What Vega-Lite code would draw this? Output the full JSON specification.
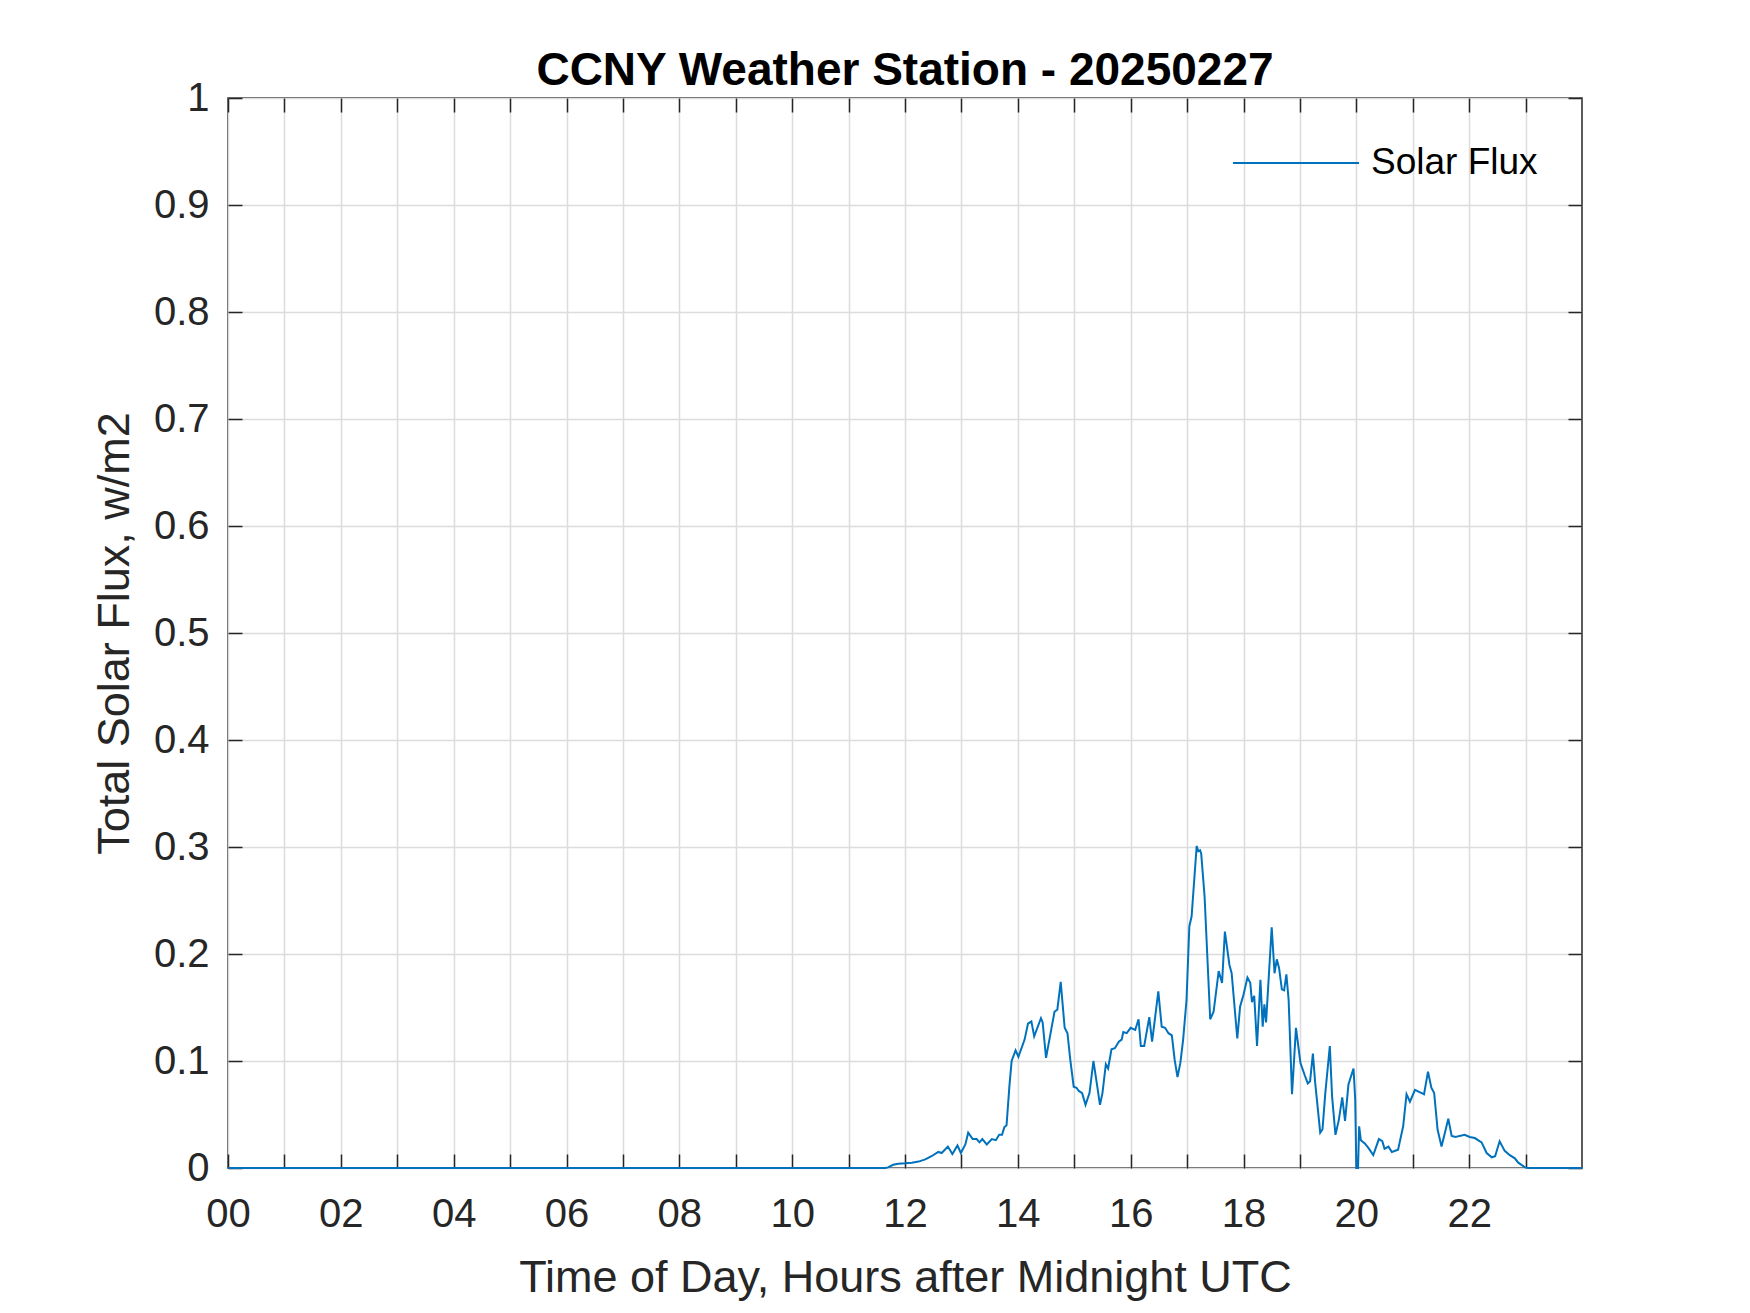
{
  "$schema": "https://vega.github.io/schema/vega-lite/v6.json",
  "width": 1354,
  "height": 1070,
  "autosize": {"type": "none"},
  "padding": {"left": 228, "top": 98, "right": 168, "bottom": 145},
  "background": "white",
  "title": {"text": "CCNY Weather Station - 20250227", "fontSize": 46, "font": "Liberation Sans", "fontWeight": "bold", "color": "#000000", "offset": -17, "anchor": "middle"},
  "data": {"values": [
    {"h": 0, "v": 0}, {"h": 11.6, "v": 0}, {"h": 11.65, "v": 0}, {"h": 11.7, "v": 0.0006}, {"h": 11.79, "v": 0.003}, {"h": 11.88, "v": 0.004},
    {"h": 12.0, "v": 0.0044}, {"h": 12.12, "v": 0.005}, {"h": 12.24, "v": 0.006}, {"h": 12.36, "v": 0.008}, {"h": 12.47, "v": 0.011},
    {"h": 12.59, "v": 0.015}, {"h": 12.65, "v": 0.014}, {"h": 12.76, "v": 0.020}, {"h": 12.84, "v": 0.013}, {"h": 12.93, "v": 0.021},
    {"h": 12.99, "v": 0.014}, {"h": 13.07, "v": 0.022}, {"h": 13.12, "v": 0.033}, {"h": 13.20, "v": 0.027}, {"h": 13.27, "v": 0.027},
    {"h": 13.32, "v": 0.024}, {"h": 13.37, "v": 0.027}, {"h": 13.45, "v": 0.022}, {"h": 13.54, "v": 0.027}, {"h": 13.61, "v": 0.026},
    {"h": 13.67, "v": 0.031}, {"h": 13.72, "v": 0.031}, {"h": 13.76, "v": 0.038}, {"h": 13.80, "v": 0.040}, {"h": 13.85, "v": 0.076},
    {"h": 13.89, "v": 0.100}, {"h": 13.96, "v": 0.110}, {"h": 14.01, "v": 0.104}, {"h": 14.12, "v": 0.120}, {"h": 14.18, "v": 0.135},
    {"h": 14.24, "v": 0.137}, {"h": 14.29, "v": 0.123}, {"h": 14.41, "v": 0.140}, {"h": 14.44, "v": 0.136}, {"h": 14.50, "v": 0.103},
    {"h": 14.57, "v": 0.123}, {"h": 14.65, "v": 0.146}, {"h": 14.70, "v": 0.148}, {"h": 14.76, "v": 0.174}, {"h": 14.83, "v": 0.131},
    {"h": 14.88, "v": 0.126}, {"h": 14.93, "v": 0.101}, {"h": 14.99, "v": 0.076}, {"h": 15.04, "v": 0.075}, {"h": 15.08, "v": 0.072},
    {"h": 15.14, "v": 0.070}, {"h": 15.20, "v": 0.059}, {"h": 15.27, "v": 0.070}, {"h": 15.34, "v": 0.100}, {"h": 15.40, "v": 0.079},
    {"h": 15.456, "v": 0.059}, {"h": 15.50, "v": 0.070}, {"h": 15.56, "v": 0.097}, {"h": 15.60, "v": 0.093}, {"h": 15.66, "v": 0.111},
    {"h": 15.72, "v": 0.112}, {"h": 15.79, "v": 0.118}, {"h": 15.84, "v": 0.120}, {"h": 15.87, "v": 0.127}, {"h": 15.93, "v": 0.126},
    {"h": 16.0, "v": 0.131}, {"h": 16.08, "v": 0.129}, {"h": 16.14, "v": 0.139}, {"h": 16.18, "v": 0.114}, {"h": 16.24, "v": 0.114},
    {"h": 16.33, "v": 0.141}, {"h": 16.38, "v": 0.118}, {"h": 16.49, "v": 0.165}, {"h": 16.55, "v": 0.132}, {"h": 16.61, "v": 0.131},
    {"h": 16.67, "v": 0.126}, {"h": 16.73, "v": 0.124}, {"h": 16.78, "v": 0.101}, {"h": 16.83, "v": 0.085}, {"h": 16.88, "v": 0.098},
    {"h": 16.93, "v": 0.120}, {"h": 16.99, "v": 0.157}, {"h": 17.04, "v": 0.226}, {"h": 17.08, "v": 0.235}, {"h": 17.17, "v": 0.301},
    {"h": 17.20, "v": 0.296}, {"h": 17.23, "v": 0.297}, {"h": 17.25, "v": 0.294}, {"h": 17.31, "v": 0.254}, {"h": 17.41, "v": 0.139},
    {"h": 17.47, "v": 0.146}, {"h": 17.56, "v": 0.184}, {"h": 17.62, "v": 0.173}, {"h": 17.67, "v": 0.221}, {"h": 17.75, "v": 0.190},
    {"h": 17.79, "v": 0.182}, {"h": 17.89, "v": 0.121}, {"h": 17.94, "v": 0.151}, {"h": 18.0, "v": 0.162}, {"h": 18.07, "v": 0.178},
    {"h": 18.12, "v": 0.173}, {"h": 18.15, "v": 0.155}, {"h": 18.19, "v": 0.161}, {"h": 18.24, "v": 0.114}, {"h": 18.30, "v": 0.176},
    {"h": 18.34, "v": 0.132}, {"h": 18.37, "v": 0.153}, {"h": 18.40, "v": 0.136}, {"h": 18.50, "v": 0.225}, {"h": 18.55, "v": 0.182},
    {"h": 18.59, "v": 0.195}, {"h": 18.63, "v": 0.187}, {"h": 18.68, "v": 0.167}, {"h": 18.72, "v": 0.166}, {"h": 18.76, "v": 0.181},
    {"h": 18.80, "v": 0.157}, {"h": 18.86, "v": 0.069}, {"h": 18.93, "v": 0.131}, {"h": 19.01, "v": 0.098}, {"h": 19.09, "v": 0.086},
    {"h": 19.14, "v": 0.079}, {"h": 19.18, "v": 0.081}, {"h": 19.23, "v": 0.107}, {"h": 19.27, "v": 0.080}, {"h": 19.36, "v": 0.033},
    {"h": 19.40, "v": 0.036}, {"h": 19.45, "v": 0.070}, {"h": 19.53, "v": 0.114}, {"h": 19.57, "v": 0.067}, {"h": 19.63, "v": 0.031},
    {"h": 19.69, "v": 0.045}, {"h": 19.75, "v": 0.066}, {"h": 19.80, "v": 0.044}, {"h": 19.86, "v": 0.078}, {"h": 19.95, "v": 0.093},
    {"h": 19.98, "v": 0.064}, {"h": 20.0, "v": 0}, {"h": 20.03, "v": 0}, {"h": 20.05, "v": 0.039}, {"h": 20.08, "v": 0.026},
    {"h": 20.15, "v": 0.023}, {"h": 20.21, "v": 0.019}, {"h": 20.30, "v": 0.012}, {"h": 20.40, "v": 0.027}, {"h": 20.46, "v": 0.025},
    {"h": 20.50, "v": 0.018}, {"h": 20.57, "v": 0.020}, {"h": 20.63, "v": 0.015}, {"h": 20.74, "v": 0.017}, {"h": 20.83, "v": 0.039},
    {"h": 20.89, "v": 0.069}, {"h": 20.95, "v": 0.062}, {"h": 21.04, "v": 0.073}, {"h": 21.12, "v": 0.071}, {"h": 21.20, "v": 0.069},
    {"h": 21.27, "v": 0.090}, {"h": 21.33, "v": 0.075}, {"h": 21.38, "v": 0.070}, {"h": 21.44, "v": 0.036}, {"h": 21.51, "v": 0.020},
    {"h": 21.57, "v": 0.033}, {"h": 21.63, "v": 0.046}, {"h": 21.69, "v": 0.030}, {"h": 21.76, "v": 0.029}, {"h": 21.83, "v": 0.030},
    {"h": 21.92, "v": 0.031}, {"h": 22.01, "v": 0.029}, {"h": 22.10, "v": 0.028}, {"h": 22.22, "v": 0.024}, {"h": 22.31, "v": 0.014},
    {"h": 22.40, "v": 0.010}, {"h": 22.46, "v": 0.011}, {"h": 22.54, "v": 0.025}, {"h": 22.63, "v": 0.016}, {"h": 22.72, "v": 0.012},
    {"h": 22.81, "v": 0.009}, {"h": 22.87, "v": 0.005}, {"h": 22.99, "v": 0.0006}, {"h": 23.05, "v": 0}, {"h": 24, "v": 0}
  ]},
  "layer": [
    {
      "mark": {"type": "line", "strokeWidth": 2},
      "encoding": {
        "x": {"field": "h", "type": "quantitative",
          "scale": {"domain": [0, 24], "nice": false, "zero": false},
          "axis": {"orient": "bottom", "values": [0,1,2,3,4,5,6,7,8,9,10,11,12,13,14,15,16,17,18,19,20,21,22,23],
            "labelExpr": "datum.value % 2 == 0 ? format(datum.value, '02d') : ''",
            "title": "Time of Day, Hours after Midnight UTC",
            "labelFontSize": 40, "labelFont": "Liberation Sans", "labelColor": "#262626", "labelPadding": 40,
            "labelFlush": false, "labelOverlap": false,
            "tickSize": -14, "tickColor": "#262626", "tickWidth": 1.5,
            "domain": false, "grid": true, "gridColor": "#dcdcdc", "gridWidth": 1.5,
            "titleFontSize": 45, "titleFont": "Liberation Sans", "titleFontWeight": "normal", "titleColor": "#262626", "titlePadding": 21}},
        "y": {"field": "v", "type": "quantitative",
          "scale": {"domain": [0, 1], "nice": false},
          "axis": {"orient": "left", "values": [0,0.1,0.2,0.3,0.4,0.5,0.6,0.7,0.8,0.9,1], "format": ".1~f",
            "title": "Total Solar Flux, w/m2",
            "labelFontSize": 40, "labelFont": "Liberation Sans", "labelColor": "#262626", "labelPadding": 33,
            "labelFlush": false, "labelOverlap": false,
            "tickSize": -14, "tickColor": "#262626", "tickWidth": 1.5,
            "domain": false, "grid": true, "gridColor": "#dcdcdc", "gridWidth": 1.5,
            "titleFontSize": 45, "titleFont": "Liberation Sans", "titleFontWeight": "normal", "titleColor": "#262626", "titlePadding": 16}},
        "color": {"datum": "Solar Flux", "type": "nominal", "scale": {"range": ["#0072BD"]},
          "legend": {"orient": "none", "legendX": 1004, "legendY": 1, "title": null, "padding": 0,
            "symbolType": "stroke", "symbolSize": 15876, "symbolStrokeWidth": 2,
            "labelFontSize": 37, "labelFont": "Liberation Sans", "labelColor": "#000000", "labelOffset": 11, "labelLimit": 0}}
      }
    },
    {
      "mark": {"type": "line", "strokeOpacity": 0},
      "encoding": {
        "x": {"field": "h", "type": "quantitative",
          "axis": {"orient": "top", "values": [0,1,2,3,4,5,6,7,8,9,10,11,12,13,14,15,16,17,18,19,20,21,22,23],
            "labels": false, "title": null, "domain": false, "grid": false,
            "tickSize": -14, "tickColor": "#262626", "tickWidth": 1.5}},
        "y": {"field": "v", "type": "quantitative",
          "axis": {"orient": "right", "values": [0,0.1,0.2,0.3,0.4,0.5,0.6,0.7,0.8,0.9,1],
            "labels": false, "title": null, "domain": false, "grid": false,
            "tickSize": -14, "tickColor": "#262626", "tickWidth": 1.5}}
      }
    }
  ],
  "resolve": {"axis": {"x": "independent", "y": "independent"}},
  "config": {
    "view": {"stroke": "#262626", "strokeWidth": 1.5},
    "font": "Liberation Sans"
  }
}
